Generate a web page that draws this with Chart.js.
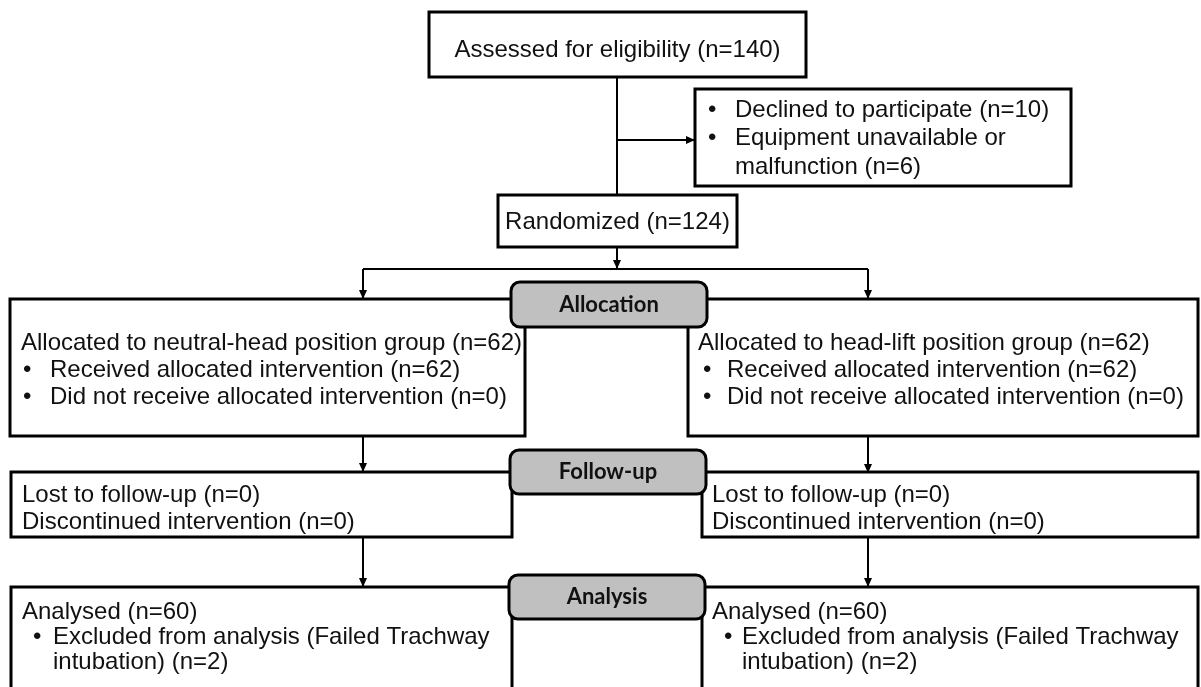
<!DOCTYPE html>
<html>
<head>
<meta charset="utf-8">
<script src="https://cdn.jsdelivr.net/npm/chart.js@4"></script>
<style>
  body { margin: 0; background: #fff; }
  #flow { display: block; }
</style>
</head>
<body>
<canvas id="flow" width="1201" height="687"></canvas>
<script>
// counts
const stageLabels = ['Allocation', 'Follow-up', 'Analysis'];
const assessedN = [140];
const excludedReasons = ['Declined to participate', 'Equipment unavailable or', 'malfunction'];
const excludedN = [10, 6];
const randomizedN = [124];
const groupNames = ['neutral-head position group', 'head-lift position group'];
const allocatedN = [62, 62];
const receivedN = [62, 62];
const notReceivedN = [0, 0];
const lostN = [0, 0];
const discontinuedN = [0, 0];
const analysedN = [60, 60];
const excludedAnalysisN = [2, 2];

const bodyFont = '24px "Liberation Sans", Arial, sans-serif';
const stageFont = 'bold 22px Lato, "Open Sans", sans-serif';

// box layout, in diagram units (the x/y scales run 0..1201, 0..687)
const boxes = [
  { x0: 429, y0: 12, x1: 806, y1: 77, center: true, lines: [
    { t: `Assessed for eligibility (n=${assessedN[0]})`, y: 50 } ] },
  { x0: 695, y0: 89, x1: 1071, y1: 186, tx: 708, bx: 735, lines: [
    { t: `${excludedReasons[0]} (n=${excludedN[0]})`, y: 110, bullet: true },
    { t: excludedReasons[1], y: 138, bullet: true },
    { t: `${excludedReasons[2]} (n=${excludedN[1]})`, y: 167, indent: true } ] },
  { x0: 498, y0: 195, x1: 737, y1: 247, center: true, lines: [
    { t: `Randomized (n=${randomizedN[0]})`, y: 222 } ] }
];

const groupX = [
  { x0: 10, x1: 525, fx0: 11, fx1: 512, tx: 21, bx: 23, btx: 50, atx: 22, abx: 33, abtx: 53 },
  { x0: 688, x1: 1198, fx0: 702, fx1: 1198, tx: 698, bx: 703, btx: 727, atx: 712, abx: 724, abtx: 742 }
];

groupNames.forEach((g, i) => {
  const c = groupX[i];
  boxes.push({ x0: c.x0, y0: 299, x1: c.x1, y1: 436, tx: c.bx, bx: c.btx, lx: c.tx, lines: [
    { t: `Allocated to ${g} (n=${allocatedN[i]})`, y: 343 },
    { t: `Received allocated intervention (n=${receivedN[i]})`, y: 370, bullet: true },
    { t: `Did not receive allocated intervention (n=${notReceivedN[i]})`, y: 397, bullet: true } ] });
  boxes.push({ x0: c.fx0, y0: 472, x1: c.fx1, y1: 537, lx: c.atx, lines: [
    { t: `Lost to follow-up (n=${lostN[i]})`, y: 495 },
    { t: `Discontinued intervention (n=${discontinuedN[i]})`, y: 522 } ] });
  boxes.push({ x0: c.fx0, y0: 587, x1: c.fx1, y1: 705, tx: c.abx, bx: c.abtx, lx: c.atx, lines: [
    { t: `Analysed (n=${analysedN[i]})`, y: 612 },
    { t: 'Excluded from analysis (Failed Trachway', y: 637, bullet: true },
    { t: `intubation) (n=${excludedAnalysisN[i]})`, y: 662, indent: true } ] });
});

// grey stage tabs
const stageBoxes = [
  { x0: 511, y0: 282, x1: 707, y1: 327 },
  { x0: 510, y0: 450, x1: 706, y1: 494 },
  { x0: 509, y0: 575, x1: 705, y1: 619 }
];

// connectors: [x0, y0, x1, y1, arrow?]
const links = [
  [617, 77, 617, 195, false],
  [617, 140, 695, 140, true],
  [617, 247, 617, 269, true],
  [363, 269, 868, 269, false],
  [363, 269, 363, 299, true],
  [868, 269, 868, 299, true],
  [363, 436, 363, 472, true],
  [868, 436, 868, 473, true],
  [363, 537, 363, 587, true],
  [868, 537, 868, 587, true]
];

const flowPlugin = {
  id: 'flow',
  afterDraw(chart) {
    const ctx = chart.ctx;
    const sx = v => chart.scales.x.getPixelForValue(v);
    const sy = v => chart.scales.y.getPixelForValue(v);
    ctx.save();
    ctx.strokeStyle = '#000';
    ctx.fillStyle = '#000';

    // links
    ctx.lineWidth = 2;
    links.forEach(([a, b, c, d, arrow]) => {
      const x0 = sx(a), y0 = sy(b), x1 = sx(c), y1 = sy(d);
      ctx.beginPath();
      ctx.moveTo(x0, y0);
      ctx.lineTo(x1, y1);
      ctx.stroke();
      if (arrow) {
        const ang = Math.atan2(y1 - y0, x1 - x0);
        ctx.beginPath();
        ctx.moveTo(x1, y1);
        ctx.lineTo(x1 - 9 * Math.cos(ang) + 4 * Math.sin(ang), y1 - 9 * Math.sin(ang) - 4 * Math.cos(ang));
        ctx.lineTo(x1 - 9 * Math.cos(ang) - 4 * Math.sin(ang), y1 - 9 * Math.sin(ang) + 4 * Math.cos(ang));
        ctx.closePath();
        ctx.fill();
      }
    });

    // boxes
    ctx.lineWidth = 3;
    ctx.font = bodyFont;
    ctx.textBaseline = 'middle';
    boxes.forEach(b => {
      const x0 = sx(b.x0), y0 = sy(b.y0), x1 = sx(b.x1), y1 = sy(b.y1);
      ctx.fillStyle = '#fff';
      ctx.fillRect(x0, y0, x1 - x0, y1 - y0);
      ctx.strokeRect(x0, y0, x1 - x0, y1 - y0);
      ctx.fillStyle = '#111';
      b.lines.forEach(l => {
        const y = sy(l.y);
        if (b.center) {
          ctx.textAlign = 'center';
          ctx.fillText(l.t, (x0 + x1) / 2, y);
          return;
        }
        ctx.textAlign = 'left';
        if (l.bullet) {
          ctx.fillText('•', sx(b.tx), y);
          ctx.fillText(l.t, sx(b.bx), y);
        } else if (l.indent) {
          ctx.fillText(l.t, sx(b.bx), y);
        } else {
          ctx.fillText(l.t, sx(b.lx), y);
        }
      });
    });

    // stage tabs
    ctx.font = stageFont;
    ctx.textAlign = 'center';
    stageBoxes.forEach((s, i) => {
      const x0 = sx(s.x0), y0 = sy(s.y0), x1 = sx(s.x1), y1 = sy(s.y1);
      ctx.beginPath();
      ctx.roundRect(x0, y0, x1 - x0, y1 - y0, 9);
      ctx.fillStyle = '#c0c0c0';
      ctx.fill();
      ctx.lineWidth = 3;
      ctx.stroke();
      ctx.fillStyle = '#111';
      ctx.fillText(stageLabels[i], (x0 + x1) / 2, (y0 + y1) / 2);
    });
    ctx.restore();
  }
};

new Chart(document.getElementById('flow'), {
  type: 'scatter',
  data: { datasets: [{ data: [], showLine: false }] },
  options: {
    responsive: false,
    animation: false,
    layout: { padding: 0 },
    plugins: { legend: { display: false }, tooltip: { enabled: false } },
    scales: {
      x: { display: false, min: 0, max: 1201 },
      y: { display: false, min: 0, max: 687, reverse: true }
    }
  },
  plugins: [flowPlugin]
});
</script>
</body>
</html>
